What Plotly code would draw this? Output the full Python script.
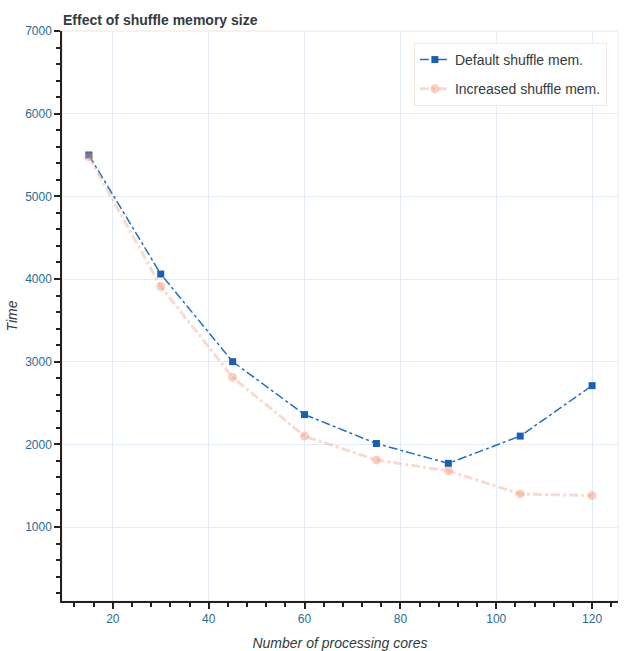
import plotly.graph_objects as go

cores = [15, 30, 45, 60, 75, 90, 105, 120]
default_mem = [5500, 4060, 3000, 2360, 2010, 1770, 2100, 2710]
increased_mem = [5480, 3910, 2810, 2100, 1810, 1680, 1400, 1380]

FONT = "Liberation Sans, Arial, sans-serif"

fig = go.Figure()
fig.add_trace(go.Scatter(
    x=cores, y=default_mem, mode="lines+markers", name="Default shuffle mem.",
    legendgroup="a",
    line=dict(color="#1f6fc0", width=1.5, dash="dashdot"),
    marker=dict(symbol="square", size=7, color="#1a5fb0"),
))
fig.add_trace(go.Scatter(
    x=cores, y=increased_mem, mode="lines+markers", name="Increased shuffle mem.",
    legendgroup="b",
    line=dict(color="rgba(240,150,120,0.35)", width=3, dash="dashdot"),
    marker=dict(symbol="circle", size=9, color="rgba(240,150,120,0.45)"),
))

tickfont = dict(family=FONT, size=12, color="#2c6a94")
fig.update_layout(
    width=640, height=651,
    margin=dict(l=62, r=22, t=31, b=50),
    paper_bgcolor="white", plot_bgcolor="white",
    title=dict(text="<b>Effect of shuffle memory size</b>", x=63/640, xanchor="left",
               y=1 - 20/651, yanchor="middle",
               font=dict(family=FONT, size=14, color="#333a40")),
    showlegend=True,
    legend=dict(x=0.98, y=0.979, xanchor="right", yanchor="top",
                bgcolor="white", bordercolor="#f3e6e0", borderwidth=1,
                font=dict(family=FONT, size=14, color="#333a40"),
                tracegroupgap=8, itemwidth=30),
)
common = dict(
    showgrid=True, gridcolor="#e3ecf6", gridwidth=1, zeroline=False,
    showline=True, linecolor="#222", linewidth=1.5,
    ticks="outside", ticklen=6, tickcolor="#222", tickwidth=1.5,
    tickfont=tickfont, automargin=False,
)
fig.update_xaxes(
    range=[9.4, 125.4], tickvals=[20, 40, 60, 80, 100, 120],
    minor=dict(dtick=4, tick0=0, ticks="outside", ticklen=4, tickcolor="#222", showgrid=False),
    title=dict(text="<i>Number of processing cores</i>", standoff=14,
               font=dict(family=FONT, size=14, color="#333a40")),
    **common,
)
fig.update_yaxes(
    range=[105, 7000], tickvals=[1000, 2000, 3000, 4000, 5000, 6000, 7000],
    minor=dict(dtick=200, tick0=0, ticks="outside", ticklen=4, tickcolor="#222", showgrid=False),
    title=dict(text="<i>Time</i>", standoff=4,
               font=dict(family=FONT, size=14, color="#333a40")),
    **common,
)
fig.add_shape(type="rect", xref="paper", yref="paper", x0=0, y0=0, x1=1, y1=1,
              line=dict(color="#f6e4dc", width=1), layer="below")

fig.write_html("out.html", config={"displayModeBar": False},
               post_script="document.body.style.margin='0';document.body.style.overflow='hidden';")
